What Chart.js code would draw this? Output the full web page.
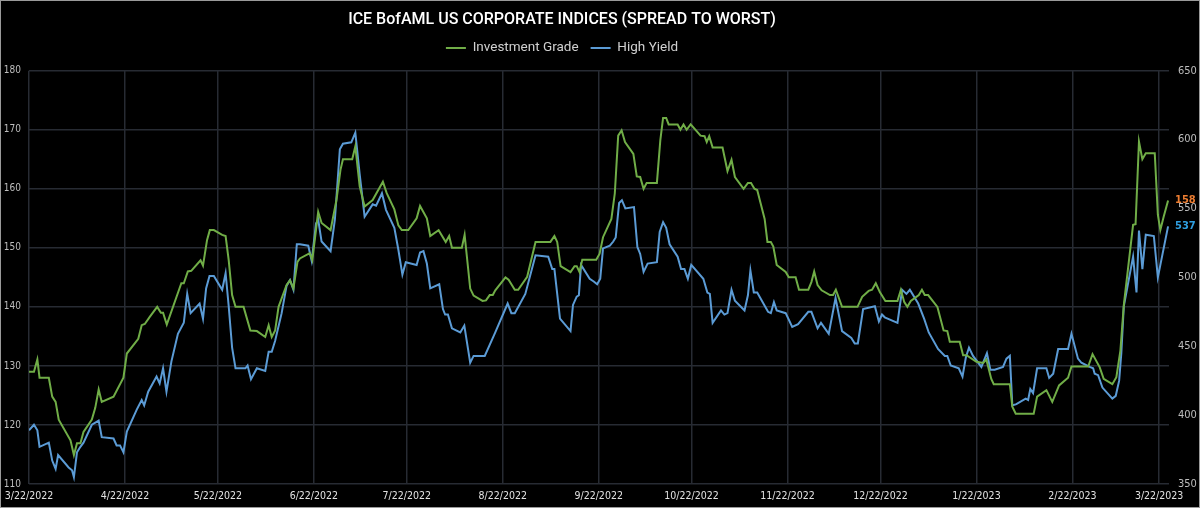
<!DOCTYPE html>
<html>
<head>
<meta charset="utf-8">
<script src="https://cdn.jsdelivr.net/npm/chart.js@4"></script>
<style>
  html, body { margin: 0; padding: 0; background: #000; }
  #wrap { position: relative; width: 1200px; height: 508px; background: #000; }
  #wrap::after { content: ""; position: absolute; inset: 0; border: 1px solid #9a9a9a; pointer-events: none; }
  canvas { display: block; }
</style>
</head>
<body>
<div id="wrap"><canvas id="chart" width="1200" height="508"></canvas></div>
<script>
// x values are days counted from 3/22/2022
let monthTicks = [0, 31, 61, 92, 122, 153, 184, 214, 245, 275, 306, 337, 365];
let monthLabels = ["3/22/2022", "4/22/2022", "5/22/2022", "6/22/2022", "7/22/2022", "8/22/2022",
  "9/22/2022", "10/22/2022", "11/22/2022", "12/22/2022", "1/22/2023", "2/22/2023", "3/22/2023"];

let igTicks = [110, 120, 130, 140, 150, 160, 170, 180];
let hyTicks = [350, 400, 450, 500, 550, 600, 650];

// Investment Grade spread (left axis)
let igDays = [0, 1.6, 2.7, 3.4, 6.4, 7.5, 8.6, 9.6, 13.4, 14.5,
  15.5, 16.6, 17.6, 20.3, 21.4, 22.5, 23.5, 27.3, 30.5, 31.6,
  35.3, 36.4, 37.4, 39, 41.4, 42.6, 43.3, 44.5, 49.2, 50,
  51.3, 52.4, 55.4, 56.2, 57.5, 58.4, 59.7, 62.4, 63.5, 64.5,
  65.6, 66.7, 69.3, 71.5, 73.6, 76.3, 77.4, 78.4, 79.5, 80.6,
  83.2, 84.3, 85.4, 86.7, 87.5, 90.7, 91.5, 93.4, 94.5, 97.4,
  99.3, 100.6, 101.4, 104.4, 105.4, 106.8, 108.4, 111, 114.3, 115.5,
  118, 119.3, 120.4, 122.5, 125.2, 126.3, 128.5, 129.6, 132.3, 134.6,
  135.7, 136.6, 139.8, 140.7, 142.5, 143.6, 146.5, 147.6, 148.8, 149.8,
  150.6, 153.9, 154.9, 156.9, 158, 160.9, 163.6, 168.4, 169.7, 170.6,
  171.7, 174.9, 176.2, 176.9, 177.8, 178.7, 183.2, 184.3, 185.4, 188.1,
  189.2, 190.3, 191.4, 192.5, 195.2, 196.3, 197.4, 198.5, 199.5, 202.8,
  203.9, 204.8, 205.8, 206.6, 209.5, 210.4, 211.4, 212.4, 213.7, 216.9,
  218.2, 218.9, 219.7, 220.8, 224, 225.6, 226.9, 228, 230.8, 232.2,
  233.2, 234.3, 235.2, 237.6, 238.5, 239.6, 240.4, 241.5, 244.4, 245.4,
  247.6, 248.7, 251.7, 252.7, 253.6, 254.7, 256, 258.7, 259.7, 260.6,
  262.6, 267.6, 269.1, 271.2, 272.3, 273.5, 274.8, 276.6, 280.5, 281.6,
  282.7, 283.7, 284.8, 287.4, 288.4, 289.3, 290.4, 293.4, 295.4, 296.6,
  297.4, 300.6, 301.7, 302.8, 306, 308.2, 309.2, 310.8, 311.6, 316.8,
  317.6, 318.7, 324.5, 325.6, 328.6, 330.5, 332.7, 335.6, 336.7, 342.1,
  343.5, 345.8, 347.1, 349.9, 351.2, 352.5, 353.6, 356.6, 357.4, 358.5,
  359.6, 360.7, 363.6, 364.6, 365.4, 366.5, 367.9];
let igSpread = [129, 129, 131.1, 128, 128, 124.8, 123.9, 120.9, 117.4, 114.9,
  116.9, 116.9, 118.8, 120.9, 122.9, 126, 123.9, 124.8, 128, 132.1,
  134.6, 136.9, 137.1, 138.3, 140, 139, 139, 137, 144, 144,
  146, 146.1, 147.9, 147, 151.3, 153, 153, 152.2, 152, 147.9,
  142, 140, 140, 136, 135.9, 134.9, 136.9, 134.9, 136, 140,
  143.7, 144.5, 143.1, 147.6, 148.2, 149.1, 147.9, 156.1, 154.2, 153,
  158.1, 163.2, 165, 165, 167.2, 160.4, 157, 158.1, 161.2, 159.3,
  156.5, 153.8, 153, 153, 155, 157.1, 155, 152, 153, 151,
  152, 150, 150, 152.2, 143.1, 141.9, 141, 141.1, 142, 142,
  142.8, 145, 144.6, 142.9, 142.9, 145.1, 151, 151, 152, 151,
  146.9, 145.9, 146.9, 146.9, 145.9, 148, 148, 149, 151.8, 154.9,
  159.2, 169, 169.9, 167.9, 165.9, 162.1, 162, 160, 161, 161,
  168.2, 172, 172, 170.9, 170.9, 170, 170.9, 170, 170.9, 169,
  168.9, 167.9, 168.9, 167, 167, 163, 164.9, 162, 160, 161,
  161, 160, 159.8, 154.9, 151, 151, 150.2, 147.1, 145.9, 145,
  145, 142.9, 142.9, 144.2, 146, 143.7, 142.8, 142, 142, 142.9,
  140, 140, 141.7, 142.7, 142.9, 144, 142.5, 141, 141, 142.9,
  140.8, 140, 141, 142, 142.9, 142, 142, 140, 136, 135.9,
  134.1, 134.1, 131.8, 131.8, 130.7, 130.5, 131.1, 127.8, 126.9, 126.9,
  123.1, 121.9, 121.9, 124.8, 125.9, 123.9, 126.7, 128, 129.9, 129.9,
  132, 129.8, 127.8, 126.9, 128.1, 132.6, 140.3, 153.9, 154, 168,
  165, 166, 166, 155.6, 153, 155.3, 158];

// High Yield spread (right axis)
let hyDays = [0, 1.6, 2.7, 3.4, 6.4, 7.5, 8.6, 9.4, 12.8, 13.9,
  14.5, 15.5, 16.6, 17.6, 20.3, 22.5, 23.5, 27.3, 28.3, 29.4,
  30.5, 31.6, 34.8, 36.4, 37.2, 38.5, 41.2, 42.2, 43.3, 44.4,
  46, 48.1, 50, 51.1, 52.2, 55.1, 56.2, 57.2, 58.3, 59.7,
  62.4, 63.5, 64.5, 65.6, 66.7, 69.9, 70.6, 71.7, 73.6, 76.3,
  77.4, 78.4, 79.5, 81.6, 83.2, 84.3, 85.4, 86.5, 87.5, 90.2,
  91.3, 92.7, 93.4, 94.5, 97.4, 98.8, 100.4, 101.4, 104.1, 105.4,
  106.8, 108.4, 111, 112.1, 114, 115.3, 118, 119.3, 120.6, 121.7,
  125.2, 126.3, 127.4, 128.5, 129.6, 132.5, 133.7, 134.4, 135.3, 136.6,
  139.3, 140.6, 142.5, 143.6, 147.2, 150.6, 154.6, 155.8, 156.9, 160.3,
  163.6, 167.7, 169, 169.7, 171.5, 174.9, 175.7, 176.9, 177.6, 178.3,
  181.1, 182.4, 183.5, 184.5, 185.4, 187.6, 188.7, 189.5, 190.6, 191.5,
  192.6, 195.4, 196.5, 197.4, 198.5, 199.8, 202.8, 203.7, 204.8, 205.8,
  206.9, 209.5, 210.6, 211.7, 212.8, 213.9, 217.8, 219.1, 219.9, 220.8,
  223.5, 224.6, 225.6, 226.9, 228, 231.1, 232.2, 233, 234.1, 235.2,
  238.7, 239.6, 240.6, 241.5, 244.4, 246.5, 248.4, 251.7, 252.7, 254.7,
  255.8, 258.3, 260.5, 262.6, 265.6, 266.7, 267.7, 269.4, 273.2, 274.5,
  275.5, 276.4, 280.5, 282, 283.4, 284.5, 287.2, 289.1, 290.6, 293.6,
  295.8, 296.6, 297.7, 300.3, 301.5, 302.6, 303.6, 304.9, 307.6, 309.4,
  310.5, 311.9, 314.6, 315.7, 316.8, 317.6, 318.9, 321.9, 322.7, 323.4,
  324.3, 325.6, 328.6, 329.5, 330.8, 332.4, 335.6, 336.7, 338.8, 339.9,
  342.6, 343.7, 344.2, 345.3, 346.7, 349.1, 349.9, 351, 352.1, 352.8,
  353.6, 356.6, 357.7, 358.5, 359.6, 360.7, 363.3, 364.6, 367.9];
let hySpread = [389, 393, 389, 377, 380, 367, 361, 371, 362, 360,
  355, 373, 377, 380, 393, 396, 384, 383, 378, 378,
  373, 388, 404, 411, 407, 417, 428, 423, 434, 417,
  439, 459, 467, 488, 474, 481, 470, 492, 501, 501,
  491, 503, 479, 449, 434, 434, 436, 426, 434, 432,
  446, 446, 454, 474, 494, 498, 491, 524, 524, 523,
  512, 539, 542, 526, 519, 542, 593, 597, 598, 605,
  575, 544, 553, 552, 561, 549, 536, 520, 502, 511,
  509, 518, 519, 510, 492, 495, 477, 473, 473, 463,
  460, 465, 438, 443, 443, 460, 481, 474, 474, 488,
  516, 515, 506, 506, 470, 461, 480, 486, 487, 509,
  499, 497, 495, 499, 521, 523, 526, 529, 554, 556,
  550, 551, 522, 517, 504, 510, 511, 533, 540, 536,
  524, 515, 506, 506, 499, 509, 499, 489, 488, 467,
  476, 473, 474, 491, 483, 476, 487, 505, 489, 489,
  475, 474, 482, 476, 474, 464, 466, 475, 475, 463,
  467, 459, 485, 461, 456, 452, 452, 477, 479, 468,
  473, 471, 467, 491, 488, 491, 481, 470, 460, 448,
  443, 443, 436, 434, 428, 442, 449, 443, 435, 445,
  433, 433, 435, 441, 443, 407, 408, 412, 411, 419,
  416, 434, 434, 427, 430, 448, 448, 459, 441, 438,
  435, 434, 430, 429, 420, 414, 412, 414, 425, 445,
  479, 515, 489, 534, 506, 531, 530, 500, 537];

let igColor = "#70ad47";
let hyColor = "#5b9bd5";
let endLabelColors = ["#ed7d31", "#2f9fe0"];
let gridColor = "#272b33";
let condensed = "'DejaVu Sans Condensed', 'DejaVu Sans', sans-serif";
let legendExtra = 6;   // extra gap between legend and plot
let headerShift = -38; // title + legend sit a bit left of centre

function toPoints(days, values) {
  let pts = [];
  for (let i = 0; i < days.length; i++) {
    pts.push({ x: days[i], y: values[i] });
  }
  return pts;
}

function shiftDraw(box, dx) {
  if (!box) return;
  let draw = box.draw;
  box.draw = function () {
    this.ctx.save();
    this.ctx.translate(dx, 0);
    draw.apply(this, arguments);
    this.ctx.restore();
  };
}

// header tweaks + last value printed just right of the plot
const endLabels = {
  id: "endLabels",
  afterInit(chart) {
    let lg = chart.legend;
    if (lg) {
      let fit = lg.fit;
      lg.fit = function () {
        fit.call(this);
        this.height += legendExtra;
      };
    }
    shiftDraw(lg, headerShift);
    shiftDraw(chart.titleBlock, headerShift);
  },
  afterDatasetsDraw(chart) {
    let ctx = chart.ctx;
    ctx.save();
    ctx.font = "bold 11px " + condensed;
    ctx.textBaseline = "middle";
    ctx.textAlign = "left";
    chart.data.datasets.forEach(function (ds, i) {
      let meta = chart.getDatasetMeta(i);
      let last = meta.data[meta.data.length - 1];
      ctx.fillStyle = endLabelColors[i];
      ctx.fillText(Math.round(ds.data[ds.data.length - 1].y), chart.chartArea.right + 6, last.y);
    });
    ctx.restore();
  }
};

let ctx = document.getElementById("chart").getContext("2d");
let myChart = new Chart(ctx, {
  type: "line",
  data: {
    datasets: [
      {
        label: "Investment Grade",
        data: toPoints(igDays, igSpread),
        borderColor: igColor,
        backgroundColor: igColor,
        borderWidth: 2,
        pointRadius: 0,
        tension: 0,
        yAxisID: "yIG"
      },
      {
        label: "High Yield",
        data: toPoints(hyDays, hySpread),
        borderColor: hyColor,
        backgroundColor: hyColor,
        borderWidth: 2,
        pointRadius: 0,
        tension: 0,
        yAxisID: "yHY"
      }
    ]
  },
  options: {
    responsive: false,
    animation: false,
    layout: { padding: 0 },
    plugins: {
      title: {
        display: true,
        text: "ICE BofAML US CORPORATE INDICES (SPREAD TO WORST)",
        color: "#ffffff",
        font: { family: "Roboto", size: 16, weight: "500" },
        padding: { top: 10, bottom: 0 }
      },
      legend: {
        display: true,
        labels: {
          color: "#d0d0d0",
          font: { family: "Roboto", size: 13.5 },
          usePointStyle: true,
          pointStyle: "line",
          pointStyleWidth: 20,
          padding: 12
        }
      },
      tooltip: { enabled: false }
    },
    scales: {
      x: {
        type: "linear",
        min: 0,
        max: 368.2,
        afterBuildTicks: function (scale) {
          scale.ticks = monthTicks.map(function (v) { return { value: v }; });
        },
        afterFit: function (scale) {
          scale.height = 24;
          scale.paddingLeft = 0;
          scale.paddingRight = 0;
        },
        ticks: {
          autoSkip: false,
          maxRotation: 0,
          color: "#e2e2e2",
          font: { family: condensed, size: 10.5 },
          padding: 6,
          callback: function (value) {
            let i = monthTicks.indexOf(value);
            return i >= 0 ? monthLabels[i] : "";
          }
        },
        grid: { color: gridColor, lineWidth: 1.5, drawTicks: false },
        border: { display: false }
      },
      yIG: {
        position: "left",
        min: 110,
        max: 180,
        afterBuildTicks: function (scale) {
          scale.ticks = igTicks.map(function (v) { return { value: v }; });
        },
        afterFit: function (scale) { scale.width = 29; },
        ticks: {
          color: "#bdbdbd",
          font: { family: condensed, size: 10 },
          padding: 8
        },
        grid: { color: gridColor, lineWidth: 1.5, drawTicks: false },
        border: { display: false }
      },
      yHY: {
        position: "right",
        min: 350,
        max: 650,
        afterBuildTicks: function (scale) {
          scale.ticks = hyTicks.map(function (v) { return { value: v }; });
        },
        afterFit: function (scale) { scale.width = 31; },
        ticks: {
          color: "#bdbdbd",
          font: { family: condensed, size: 11 },
          padding: 9
        },
        grid: { display: false, drawTicks: false },
        border: { display: false }
      }
    }
  },
  plugins: [endLabels]
});
</script>
</body>
</html>
